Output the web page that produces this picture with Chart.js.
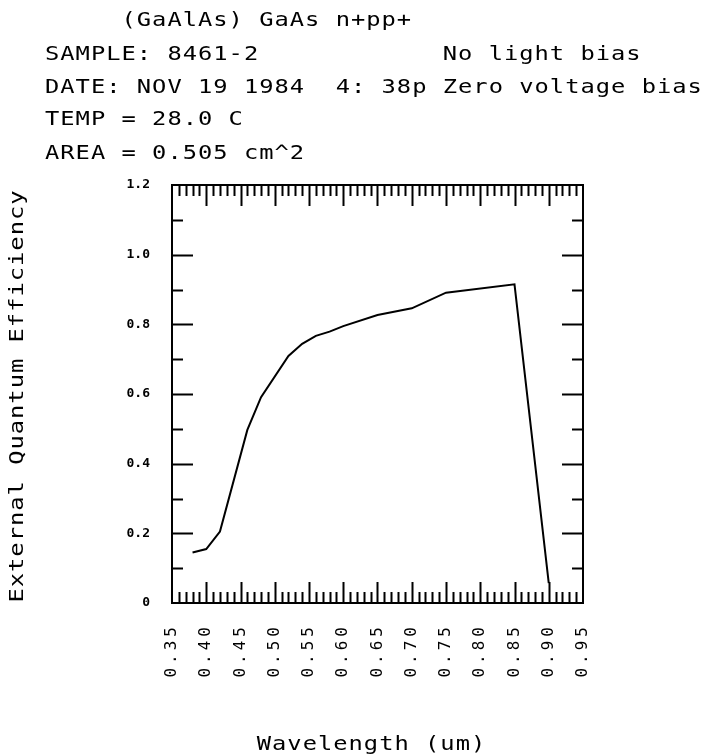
<!DOCTYPE html>
<html>
<head>
<meta charset="utf-8">
<title>External Quantum Efficiency</title>
<script src="https://cdn.jsdelivr.net/npm/chart.js@4.4.1/dist/chart.umd.min.js"></script>
<style>
  html, body { margin: 0; padding: 0; background: #fff; }
</style>
</head>
<body>
<canvas id="qeChart" width="712" height="756"></canvas>
<script>
// measured spectral response, GaAs n+pp+ cell 8461-2
var wavelength = [0.38, 0.40, 0.42, 0.46, 0.48, 0.52, 0.54, 0.56, 0.58, 0.60, 0.65, 0.70, 0.75, 0.85, 0.90];
var efficiency = [0.145, 0.155, 0.205, 0.497, 0.591, 0.709, 0.744, 0.767, 0.779, 0.795, 0.827, 0.846, 0.891, 0.915, 0.057];

var xTickLabels = ['0.35', '0.40', '0.45', '0.50', '0.55', '0.60', '0.65', '0.70', '0.75', '0.80', '0.85', '0.90', '0.95'];
var yTickLabels = ['0', '0.2', '0.4', '0.6', '0.8', '1.0', '1.2'];

var headerLines = [
  '     (GaAlAs) GaAs n+pp+',
  'SAMPLE: 8461-2            No light bias',
  'DATE: NOV 19 1984  4: 38p Zero voltage bias',
  'TEMP = 28.0 C',
  'AREA = 0.505 cm^2'
];
var headerY = [21, 55, 88, 120, 154];
var xTitle = 'Wavelength (um)';
var yTitle = 'External Quantum Efficiency';

var MONO = '"DejaVu Sans Mono", "Liberation Mono", monospace';

// wide plotter lettering: mono font stretched sideways, 15.3px per cell
function plotterText(ctx, text, x, y, align, angle) {
  var stretch = 1.25;
  ctx.save();
  ctx.font = '19px ' + MONO;
  ctx.letterSpacing = '0px';
  var cell = ctx.measureText('0').width;
  ctx.letterSpacing = (15.3 / stretch - cell).toFixed(2) + 'px';
  ctx.textBaseline = 'middle';
  ctx.textAlign = align;
  ctx.translate(x, y);
  if (angle) ctx.rotate(angle);
  ctx.scale(stretch, 1);
  ctx.fillText(text, 0, 0);
  ctx.restore();
}

// plotter style frame: box with inward ticks on all four sides
var plotterFrame = {
  id: 'plotterFrame',
  afterDatasetsDraw: function (chart) {
    var ctx = chart.ctx, a = chart.chartArea;
    var xs = chart.scales.x, ys = chart.scales.y;
    ctx.save();
    ctx.strokeStyle = '#000';
    ctx.lineWidth = 2;
    ctx.strokeRect(a.left, a.top, a.right - a.left, a.bottom - a.top);

    ctx.beginPath();
    var i, p, len;
    for (i = 1; i < 60; i++) {
      p = Math.round(xs.getPixelForValue(xs.min + i * 0.01)) + 0.5;
      len = i % 5 === 0 ? 21 : 11;
      ctx.moveTo(p, a.bottom); ctx.lineTo(p, a.bottom - len);
      ctx.moveTo(p, a.top); ctx.lineTo(p, a.top + len);
    }
    for (i = 1; i < 12; i++) {
      p = Math.round(ys.getPixelForValue(i * 0.1)) + 0.5;
      len = i % 2 === 0 ? 21 : 11;
      ctx.moveTo(a.left, p); ctx.lineTo(a.left + len, p);
      ctx.moveTo(a.right, p); ctx.lineTo(a.right - len, p);
    }
    ctx.stroke();
    ctx.restore();
    // x tick labels are drawn right after this (ticks.z = 1), spaced out
    ctx.letterSpacing = '4px';
  },
  afterDraw: function (chart) {
    var ctx = chart.ctx, a = chart.chartArea;
    ctx.letterSpacing = '0px';
    ctx.fillStyle = '#000';
    headerLines.forEach(function (line, i) {
      plotterText(ctx, line, 45, headerY[i], 'left', 0);
    });
    plotterText(ctx, xTitle, (a.left + a.right) / 2 - 6, 745, 'center', 0);
    plotterText(ctx, yTitle, 18, (a.top + a.bottom) / 2 + 2, 'center', -Math.PI / 2);
  }
};

var ctx = document.getElementById('qeChart').getContext('2d');
var qeChart = new Chart(ctx, {
  type: 'line',
  data: {
    datasets: [{
      data: wavelength.map(function (w, i) { return { x: w, y: efficiency[i] }; }),
      borderColor: '#000',
      borderWidth: 2,
      pointRadius: 0,
      tension: 0,
      fill: false
    }]
  },
  options: {
    responsive: false,
    animation: false,
    layout: { padding: { left: 0, top: 185, right: 129, bottom: 63 } },
    plugins: {
      legend: { display: false },
      tooltip: { enabled: false }
    },
    scales: {
      x: {
        type: 'linear',
        min: 0.35,
        max: 0.95,
        grid: { display: false, drawTicks: false },
        border: { display: false },
        ticks: {
          stepSize: 0.05,
          minRotation: 90,
          maxRotation: 90,
          padding: 20,
          z: 1,
          color: '#000',
          font: { family: MONO, size: 16 },
          callback: function (value, index) { return xTickLabels[index]; }
        },
        afterFit: function (scale) { scale.height = 90; }
      },
      y: {
        min: 0,
        max: 1.2,
        grid: { display: false, drawTicks: false },
        border: { display: false },
        ticks: {
          stepSize: 0.2,
          padding: 22,
          color: '#000',
          font: { family: MONO, size: 13, weight: 'bold' },
          callback: function (value, index) { return yTickLabels[index]; }
        },
        afterFit: function (scale) { scale.width = 172; }
      }
    }
  },
  plugins: [plotterFrame]
});
</script>
</body>
</html>
